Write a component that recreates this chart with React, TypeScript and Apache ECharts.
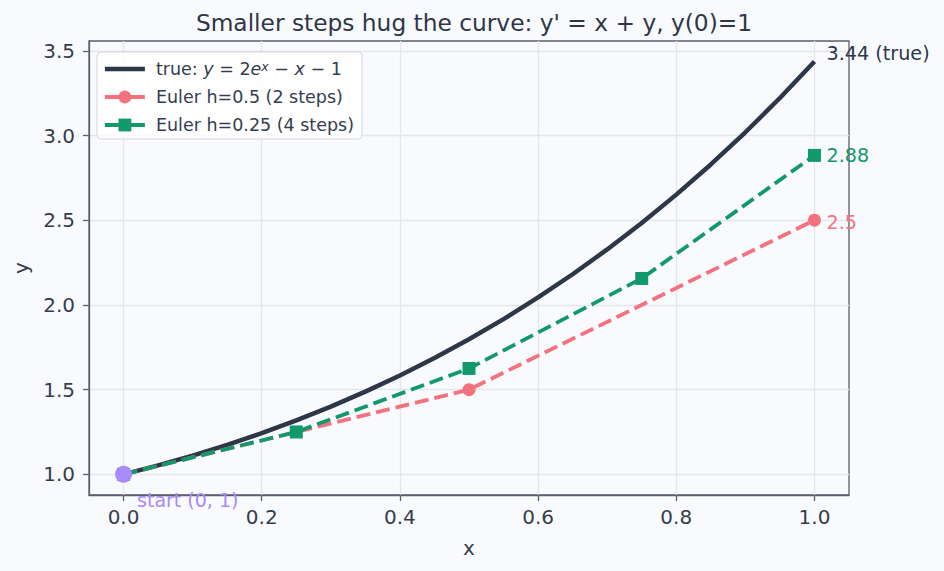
import React, { useEffect, useRef } from "react";
import * as echarts from "echarts";

const xTrue = [0, 0.05, 0.1, 0.15, 0.2, 0.25, 0.3, 0.35, 0.4, 0.45, 0.5, 0.55, 0.6, 0.65, 0.7, 0.75, 0.8, 0.85, 0.9, 0.95, 1.0];
const yTrue = [1.0, 1.0525, 1.1103, 1.1737, 1.2428, 1.3181, 1.3997, 1.4881, 1.5836, 1.6866, 1.7974, 1.9165, 2.0442, 2.1811, 2.3275, 2.484, 2.6511, 2.8293, 3.0192, 3.2214, 3.4366];
const xH05 = [0, 0.5, 1.0];
const yH05 = [1.0, 1.5, 2.5];
const xH025 = [0, 0.25, 0.5, 0.75, 1.0];
const yH025 = [1.0, 1.25, 1.625, 2.15625, 2.8828];
const xTicks = [0, 0.2, 0.4, 0.6, 0.8, 1.0];
const yTicks = [1.0, 1.5, 2.0, 2.5, 3.0, 3.5];
const startPoint = [0, 1];

const NAME_TRUE = "true";
const NAME_H05 = "Euler h=0.5 (2 steps)";
const NAME_H025 = "Euler h=0.25 (4 steps)";

const FONT = "DejaVu Sans";
const DARK = "#2d3748";
const PINK = "#f4727f";
const GREEN = "#12996b";
const PURPLE = "#a78bfa";
const SPINE = "#5b5f6e";
const GRID = "#e3e7ec";
const BG = "#f9fafd";
const TEXT = "#353d4c";

const zip = (xs: number[], ys: number[]) => xs.map((x, i) => [x, ys[i]]);

export default function App() {
  const ref = useRef<HTMLDivElement>(null);
  useEffect(() => {
    if (!ref.current) return;
    const chart = echarts.init(ref.current, undefined, { renderer: "svg" });
    chart.setOption({
      animation: false,
      backgroundColor: BG,
      title: {
        text: "Smaller steps hug the curve: y' = x + y, y(0)=1",
        left: 469,
        textAlign: "center",
        top: 6,
        textStyle: { fontFamily: FONT, fontSize: 23.3, fontWeight: "normal", color: DARK },
      },
      grid: {
        left: 89,
        right: 95,
        top: 41,
        bottom: 76,
        show: true,
        borderColor: SPINE,
        borderWidth: 1.3,
        backgroundColor: BG,
      },
      legend: {
        orient: "vertical",
        left: 97,
        top: 52,
        padding: [8, 8, 5, 6],
        itemWidth: 40,
        itemHeight: 16,
        itemGap: 10,
        backgroundColor: "rgba(255,255,255,0.8)",
        borderColor: "#d3d6db",
        borderWidth: 1,
        borderRadius: 4,
        data: [
          { name: NAME_TRUE, icon: "path://M0,0L40,0L40,4.5L0,4.5Z" },
          { name: NAME_H05, lineStyle: { type: "solid", width: 3.8 } },
          { name: NAME_H025, lineStyle: { type: "solid", width: 3.8 } },
        ],
        formatter: (name: string) =>
          name === NAME_TRUE ? "true: {i|y} = 2{i|e}{sup|x} − {i|x} − 1" : name,
        textStyle: {
          fontFamily: FONT,
          fontSize: 17.5,
          color: TEXT,
          lineHeight: 18,
          padding: [0, 0, 0, 6],
          rich: {
            i: { fontFamily: FONT, fontSize: 17.5, fontStyle: "italic", color: TEXT, lineHeight: 18 },
            sup: { fontFamily: FONT, fontSize: 12.5, fontStyle: "italic", color: TEXT, verticalAlign: "top", lineHeight: 18 },
          },
        },
      },
      xAxis: {
        type: "value",
        min: -0.05,
        max: 1.05,
        name: "x",
        nameLocation: "middle",
        nameGap: 43,
        nameTextStyle: { fontFamily: FONT, fontSize: 20, color: TEXT },
        axisLine: { show: true, onZero: false, lineStyle: { color: SPINE, width: 1.3 } },
        axisTick: { show: true, length: 6, customValues: xTicks, lineStyle: { color: SPINE, width: 1.3 } },
        axisLabel: {
          customValues: xTicks,
          margin: 12,
          fontFamily: FONT,
          fontSize: 20,
          color: TEXT,
          formatter: (v: number) => v.toFixed(1),
        },
        splitLine: { show: true, lineStyle: { color: GRID, width: 1.3 } },
      },
      yAxis: {
        type: "value",
        min: 0.878,
        max: 3.558,
        name: "y",
        nameLocation: "middle",
        nameGap: 58,
        nameTextStyle: { fontFamily: FONT, fontSize: 20, color: TEXT },
        axisLine: { show: true, onZero: false, lineStyle: { color: SPINE, width: 1.3 } },
        axisTick: { show: true, length: 6, customValues: yTicks, lineStyle: { color: SPINE, width: 1.3 } },
        axisLabel: {
          customValues: yTicks,
          margin: 14,
          fontFamily: FONT,
          fontSize: 20,
          color: TEXT,
          formatter: (v: number) => v.toFixed(1),
        },
        splitLine: { show: true, lineStyle: { color: GRID, width: 1.3 } },
      },
      series: [
        {
          name: NAME_TRUE,
          type: "line",
          data: zip(xTrue, yTrue),
          showSymbol: false,
          symbol: "none",
          color: DARK,
          lineStyle: { color: DARK, width: 4.5 },
          z: 2,
          endLabel: {
            show: true,
            formatter: "3.44 (true)",
            distance: 12,
            offset: [0, -8],
            fontFamily: FONT,
            fontSize: 19.2,
            color: DARK,
          },
        },
        {
          name: NAME_H05,
          type: "line",
          data: zip(xH05, yH05),
          symbol: "circle",
          symbolSize: 13,
          color: PINK,
          itemStyle: { color: PINK },
          lineStyle: { color: PINK, width: 3.8, type: [14, 6] },
          z: 3,
          endLabel: {
            show: true,
            formatter: "2.5",
            distance: 12,
            offset: [0, 2],
            fontFamily: FONT,
            fontSize: 19.2,
            color: PINK,
          },
        },
        {
          name: NAME_H025,
          type: "line",
          data: zip(xH025, yH025),
          symbol: "rect",
          symbolSize: 13,
          color: GREEN,
          itemStyle: { color: GREEN },
          lineStyle: { color: GREEN, width: 3.8, type: [14, 6] },
          z: 4,
          endLabel: {
            show: true,
            formatter: "2.88",
            distance: 12,
            fontFamily: FONT,
            fontSize: 19.2,
            color: GREEN,
          },
        },
        {
          name: "start",
          type: "scatter",
          data: [startPoint],
          symbol: "circle",
          symbolSize: 17,
          itemStyle: { color: PURPLE, opacity: 1 },
          z: 10,
          label: {
            show: true,
            formatter: "start (0, 1)",
            position: [22, 34.5],
            align: "left",
            verticalAlign: "middle",
            fontFamily: FONT,
            fontSize: 19,
            color: PURPLE,
          },
        },
      ],
    });
    return () => chart.dispose();
  }, []);
  return <div ref={ref} style={{ width: 944, height: 571, position: "fixed", left: 0, top: 0 }} />;
}
